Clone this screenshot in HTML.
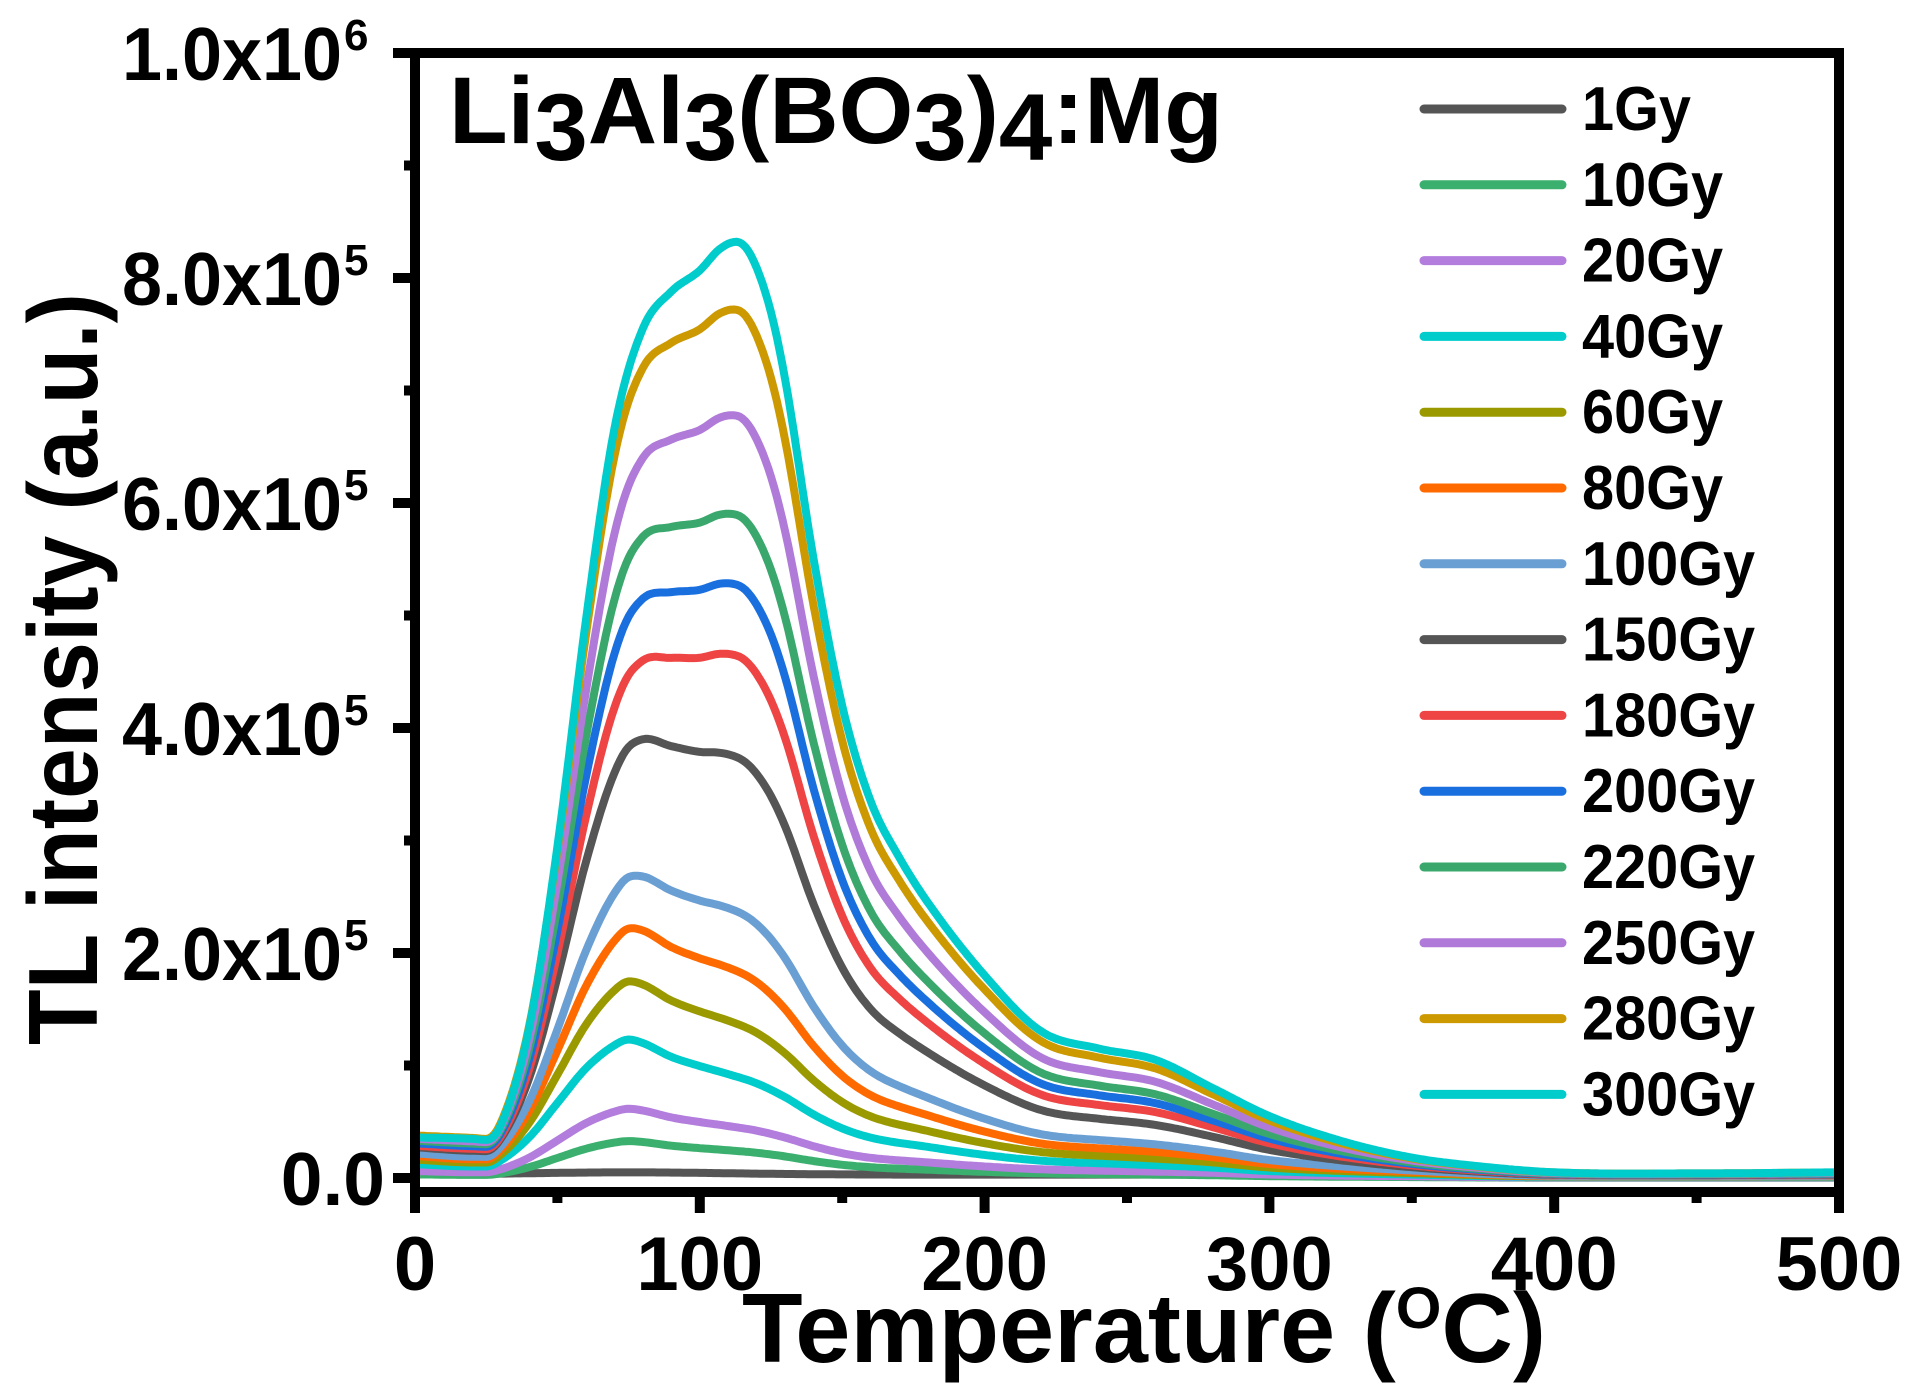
<!DOCTYPE html>
<html><head><meta charset="utf-8"><style>
html,body{margin:0;padding:0;background:#fff;}
svg{display:block;}
text{font-family:"Liberation Sans",Arial,sans-serif;font-weight:bold;fill:#000;}
</style></head><body>
<svg id="s" width="1912" height="1398" viewBox="0 0 1912 1398" xmlns="http://www.w3.org/2000/svg">
<defs><clipPath id="c"><rect x="420" y="58" width="1414" height="1129"/></clipPath></defs>
<g id="curves" clip-path="url(#c)"></g>
<g id="axes"></g>
<text x="449" y="143" font-size="95" textLength="774" lengthAdjust="spacingAndGlyphs">Li<tspan dy="17">3</tspan><tspan dy="-17">Al</tspan><tspan dy="17">3</tspan><tspan dy="-17">(BO</tspan><tspan dy="17">3</tspan><tspan dy="-17">)</tspan><tspan dy="17">4</tspan><tspan dy="-17">:Mg</tspan></text>
<text x="742" y="1362" font-size="98" textLength="804" lengthAdjust="spacingAndGlyphs">Temperature (<tspan font-size="58" dy="-34">O</tspan><tspan dy="34">C)</tspan></text>
<text transform="translate(97,1045) rotate(-90)" x="0" y="0" font-size="98" textLength="752" lengthAdjust="spacingAndGlyphs">TL intensity (a.u.)</text>
<g id="legend"></g>
</svg>
<script>
var NS="http://www.w3.org/2000/svg";
function el(t,a,p){var e=document.createElementNS(NS,t);for(var k in a)e.setAttribute(k,a[k]);(p||document.getElementById('s')).appendChild(e);return e;}
var X=function(T){return 415+T*2.848;};
var Y=function(v){return 1178-v*112.5;};
var H=[[0,.35],[20,.34],[25,.33],[30,.45],[40,1.3],[50,2.9],[60,4.9],[70,6.6],[80,7.5],[90,7.85],[100,8.05],[107,8.25],[113,8.32],[118,8.2],[125,7.7],[130,7.1],[140,5.5],[150,4.2],[160,3.35],[170,2.85],[180,2.45],[200,1.8],[220,1.3],[240,1.15],[260,1.05],[280,0.8],[300,0.55],[325,.33],[350,.18],[375,.1],[400,.05],[450,.04],[500,.05]];
var L=[[0,.12],[20,.1],[25,.1],[30,.15],[40,.35],[50,.65],[60,.95],[70,1.15],[75,1.2],[80,1.17],[90,1.05],[100,.97],[110,.9],[120,.82],[130,.7],[140,.55],[150,.43],[160,.35],[180,.27],[200,.2],[220,.15],[250,.12],[280,.09],[300,.06],[350,.03],[400,.01],[500,.01]];
function interp(P){ // cubic hermite with finite-diff slopes, sampled at 1 deg
  var n=P.length,m=[];
  for(var i=0;i<n;i++){if(i==0)m[i]=(P[1][1]-P[0][1])/(P[1][0]-P[0][0]);else if(i==n-1)m[i]=(P[n-1][1]-P[n-2][1])/(P[n-1][0]-P[n-2][0]);
    else{var d1=(P[i][1]-P[i-1][1])/(P[i][0]-P[i-1][0]),d2=(P[i+1][1]-P[i][1])/(P[i+1][0]-P[i][0]);m[i]=(d1*d2<=0)?0:(d1+d2)/2;}}
  var out=[];
  for(var T=0;T<=500;T++){var k=0;while(k<n-2&&T>P[k+1][0])k++;
    var x0=P[k][0],x1=P[k+1][0],h=x1-x0,t=(T-x0)/h;
    var h00=2*t*t*t-3*t*t+1,h10=t*t*t-2*t*t+t,h01=-2*t*t*t+3*t*t,h11=t*t*t-t*t;
    out.push(h00*P[k][1]+h10*h*m[k]+h01*P[k+1][1]+h11*h*m[k+1]);}
  return out;}
var HH=interp(H),LL=interp(L);
var data=[
[1,"#555555",0.04,0.03],
[10,"#3aaf6e",0.32,0.22],
[20,"#b27ddc",0.60,0.45],
[40,"#00cccc",1.20,0.90],
[60,"#9a9a00",1.72,1.38],
[80,"#ff6a00",2.20,1.85],
[100,"#6a9fd4",2.68,2.38],
[150,"#555555",3.90,3.75],
[180,"#ee4444",4.60,4.65],
[200,"#1a6fdf",5.15,5.28],
[220,"#3aa86c",5.70,5.90],
[250,"#b07ad8",6.40,6.78],
[280,"#cc9900",7.20,7.72],
[300,"#00cccc",7.55,8.32]];
var cg=document.getElementById('curves');
data.forEach(function(d){
  var h80=HH[80],h112=HH[112],l80=LL[80],l112=LL[112];
  var det=h80*l112-l80*h112;
  var a=(d[2]*l112-l80*d[3])/det, b=(h80*d[3]-h112*d[2])/det;
  if(a<0){a=0;b=d[2]/l80;} if(b<0){b=0;a=d[3]/h112;}
  var p="";
  for(var T=0;T<=500;T++){var v=a*HH[T]+b*LL[T];
    if(d[0]==1)v=0.03+0.02*Math.exp(-Math.pow((T-75)/50,2));
    p+=(T?"L":"M")+X(T).toFixed(1)+","+Y(v).toFixed(1);}
  el('path',{d:p,fill:"none",stroke:d[1],"stroke-width":8,"stroke-linejoin":"round","stroke-linecap":"round"},cg);
});
var ax=document.getElementById('axes');
el('rect',{x:415,y:53,width:1424,height:1139,fill:"none",stroke:"#000","stroke-width":10},ax);
for(var T=0;T<=500;T+=50){var maj=T%100==0;el('line',{x1:X(T),x2:X(T),y1:1192,y2:maj?1213:1203,stroke:"#000","stroke-width":10},ax);
 if(maj){var t=el('text',{x:X(T),y:1290,"font-size":76,"text-anchor":"middle"},ax);t.textContent=T;}}
for(var v=0;v<=10;v++){var y=Y(v);var maj=v%2==0;el('line',{x1:maj?393:404,x2:415,y1:y,y2:y,stroke:"#000","stroke-width":10},ax);}
var labs=[[0,"0.0",""],[2,"2.0x10","5"],[4,"4.0x10","5"],[6,"6.0x10","5"],[8,"8.0x10","5"],[10,"1.0x10","6"]];
labs.forEach(function(l){var y=Y(l[0])+27;
 if(l[2]){var t=el('text',{x:122,y:y,"font-size":75,textLength:220,lengthAdjust:"spacingAndGlyphs"},ax);t.textContent=l[1];
  var u=el('text',{x:344,y:y-30,"font-size":44},ax);u.textContent=l[2];}
 else{var t=el('text',{x:385,y:y,"font-size":75,"text-anchor":"end"},ax);t.textContent=l[1];}});
var lg=document.getElementById('legend');
data.forEach(function(d,i){var y=109+i*75.8;
 el('line',{x1:1424,x2:1562,y1:y,y2:y,stroke:d[1],"stroke-width":9,"stroke-linecap":"round"},lg);
 var t=el('text',{x:1582,y:y+21,"font-size":62},lg);t.textContent=d[0]+"Gy";
 var w=t.getComputedTextLength();t.setAttribute('textLength',(w*0.93).toFixed(1));t.setAttribute('lengthAdjust','spacingAndGlyphs');});
</script>
</body></html>
